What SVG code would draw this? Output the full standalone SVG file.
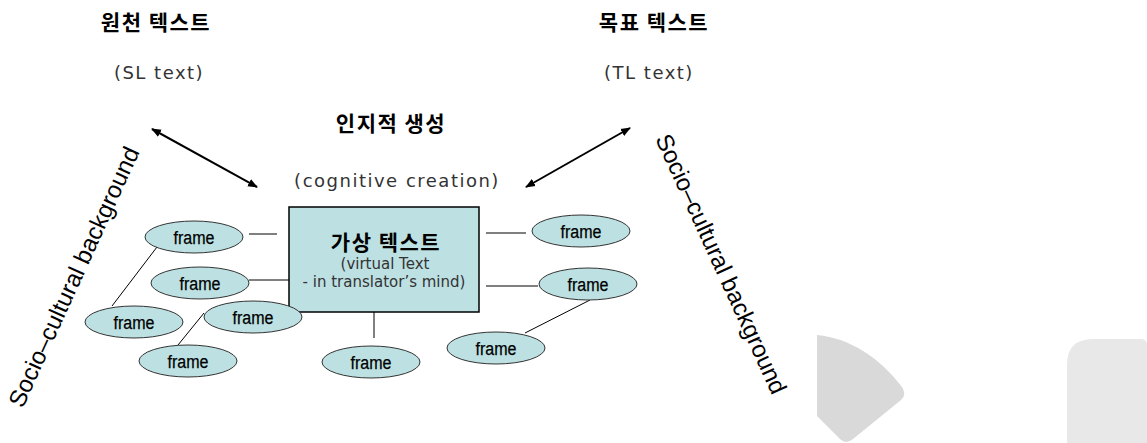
<svg xmlns="http://www.w3.org/2000/svg" width="1147" height="443" viewBox="0 0 1147 443">
  <style>
    .title { font-family: "Noto Sans CJK KR", "Liberation Sans", sans-serif; font-weight: bold; font-size: 21px; letter-spacing: 1.5px; fill: #000; text-anchor: middle; }
    .sub { font-family: "DejaVu Sans", "Noto Sans CJK KR", sans-serif; font-size: 18px; letter-spacing: 1.5px; fill: #333; text-anchor: middle; }
    .frame ellipse { fill: #bde0e3; stroke: #333; stroke-width: 1; }
    .frame text { font-family: "Liberation Sans", Arial, sans-serif; font-size: 18px; fill: #000; stroke: #000; stroke-width: 0.25; text-anchor: middle; }
    .link { stroke: #000; stroke-width: 1; fill: none; }
    .arrow { stroke: #000; stroke-width: 2; fill: none; marker-start: url(#head); marker-end: url(#head); }
    .side { font-family: "Liberation Sans", Arial, sans-serif; font-size: 24px; fill: #000; text-anchor: middle; }
    .inner { font-family: "DejaVu Sans", sans-serif; font-size: 15px; fill: #333; text-anchor: middle; }
  </style>
  <defs>
    <marker id="head" viewBox="0 0 10 10" refX="9" refY="5" markerWidth="5" markerHeight="5" orient="auto-start-reverse" markerUnits="strokeWidth">
      <path d="M0,1 L10,5 L0,9 Z" fill="#000"/>
    </marker>
  </defs>
  <rect width="1147" height="443" fill="#fff"/>

  <!-- faint grey decorations, lower right -->
  <path d="M817,335 C850,338 880,358 902,387 Q907,395 901,400 L853,439 Q846,445 840,439 L817,416 Z" fill="#d9d9d9"/>
  <path d="M1067,365 Q1067,339 1093,339 L1141,339 Q1146,339 1147,344 L1147,443 L1067,443 Z" fill="#e8e8e8"/>

  <!-- headings -->
  <g id="source-text">
    <text class="title" x="156" y="30">원천 텍스트</text>
    <text class="sub" x="159" y="79">(SL text)</text>
  </g>
  <g id="target-text">
    <text class="title" x="654" y="30">목표 텍스트</text>
    <text class="sub" x="649" y="79">(TL text)</text>
  </g>
  <g id="cognitive-creation">
    <text class="title" x="391" y="131">인지적 생성</text>
    <text class="sub" x="397" y="187">(cognitive creation)</text>
  </g>

  <!-- side labels -->
  <g id="socio-left">
    <text class="side" transform="translate(74,277) rotate(-65.5)" x="0" y="8">Socio–cultural background</text>
  </g>
  <g id="socio-right">
    <text class="side" transform="translate(721,264) rotate(65.5)" x="0" y="8">Socio–cultural background</text>
  </g>

  <!-- connectors -->
  <g id="connectors">
    <line class="arrow" x1="152" y1="129" x2="257" y2="187"/>
    <line class="arrow" x1="630" y1="128" x2="526" y2="187"/>
    <line class="link" x1="249" y1="234" x2="277" y2="234"/>
    <line class="link" x1="249" y1="280" x2="289" y2="280"/>
    <line class="link" x1="157" y1="247" x2="112" y2="306"/>
    <line class="link" x1="204" y1="313" x2="178" y2="345"/>
    <line class="link" x1="374" y1="312" x2="374" y2="338"/>
    <line class="link" x1="486" y1="233" x2="526" y2="233"/>
    <line class="link" x1="486" y1="286" x2="538" y2="286"/>
    <line class="link" x1="590" y1="300" x2="525" y2="333"/>
  </g>

  <!-- central virtual text box -->
  <g id="virtual-text">
    <rect x="289" y="207" width="190" height="105" fill="#bde0e3" stroke="#000" stroke-width="1.5"/>
    <text class="title" x="386" y="250">가상 텍스트</text>
    <text class="inner" x="385" y="269">(virtual Text</text>
    <text class="inner" x="384" y="287">- in translator’s mind)</text>
  </g>

  <!-- frames -->
  <g id="frame-1" class="frame"><ellipse cx="194" cy="237" rx="49" ry="16"/><text x="194" y="244" textLength="41" lengthAdjust="spacingAndGlyphs">frame</text></g>
  <g id="frame-2" class="frame"><ellipse cx="200" cy="283" rx="49" ry="16"/><text x="200" y="290" textLength="41" lengthAdjust="spacingAndGlyphs">frame</text></g>
  <g id="frame-3" class="frame"><ellipse cx="134" cy="322" rx="49" ry="16"/><text x="134" y="329" textLength="41" lengthAdjust="spacingAndGlyphs">frame</text></g>
  <g id="frame-4" class="frame"><ellipse cx="253" cy="317" rx="49" ry="16"/><text x="253" y="324" textLength="41" lengthAdjust="spacingAndGlyphs">frame</text></g>
  <g id="frame-5" class="frame"><ellipse cx="188" cy="361" rx="49" ry="16"/><text x="188" y="368" textLength="41" lengthAdjust="spacingAndGlyphs">frame</text></g>
  <g id="frame-6" class="frame"><ellipse cx="371" cy="362" rx="49" ry="16"/><text x="371" y="369" textLength="41" lengthAdjust="spacingAndGlyphs">frame</text></g>
  <g id="frame-7" class="frame"><ellipse cx="581" cy="231" rx="49" ry="16"/><text x="581" y="238" textLength="41" lengthAdjust="spacingAndGlyphs">frame</text></g>
  <g id="frame-8" class="frame"><ellipse cx="588" cy="284" rx="49" ry="16"/><text x="588" y="291" textLength="41" lengthAdjust="spacingAndGlyphs">frame</text></g>
  <g id="frame-9" class="frame"><ellipse cx="496" cy="348" rx="49" ry="16"/><text x="496" y="355" textLength="41" lengthAdjust="spacingAndGlyphs">frame</text></g>
</svg>
